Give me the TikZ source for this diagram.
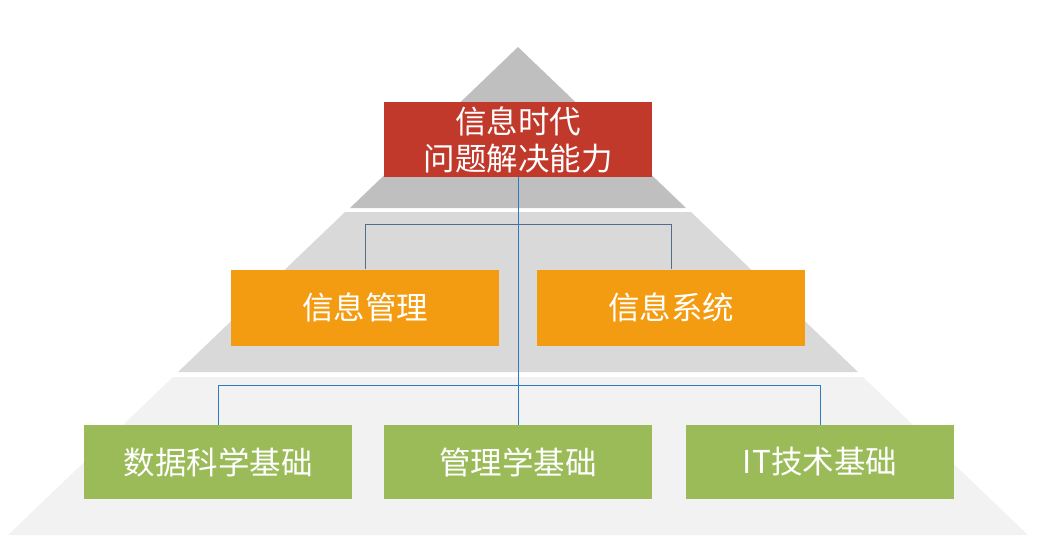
\documentclass[tikz,border=0pt]{standalone}
\usepackage{fontspec}
\newfontfamily\cjk{Noto Sans CJK SC}
\definecolor{bandA}{HTML}{BFBFBF}
\definecolor{bandB}{HTML}{D9D9D9}
\definecolor{bandC}{HTML}{F2F2F2}
\definecolor{redbox}{HTML}{C0392B}
\definecolor{orangebox}{HTML}{F39C12}
\definecolor{greenbox}{HTML}{9BBB59}
\definecolor{linkblue}{HTML}{2E7BC4}
\definecolor{linkslate}{HTML}{4E6E8A}
\begin{document}
\begin{tikzpicture}[x=1pt,y=-1pt,
  boxbase/.style={inner sep=0pt, minimum width=268pt, minimum height=75pt,
    text=white, font=\cjk\fontsize{31.5}{37}\selectfont, align=center},
  topbox/.style={boxbase, fill=redbox},
  midbox/.style={boxbase, fill=orangebox, minimum height=76pt},
  basebox/.style={boxbase, fill=greenbox, minimum height=74pt},
  link/.style={draw=linkblue, line width=1pt},
  slatelink/.style={draw=linkslate, line width=1pt}]
\useasboundingbox (0,0) rectangle (1040,558);
% pyramid bands
\fill[bandA] (518,47) -- (686,208) -- (350,208) -- cycle;
\fill[bandB] (345,212) -- (691,212) -- (858,372) -- (178,372) -- cycle;
\fill[bandC] (173,377) -- (863,377) -- (1028,535) -- (8,535) -- cycle;
% boxes
\node[topbox] (top) at (518,139.5) {信息时代\\问题解决能力};
\node[midbox] (mgmt) at (365,307.5) {信息管理};
\node[midbox] (sys) at (671,307.5) {信息系统};
\node[basebox] (ds) at (218,462) {数据科学基础};
\node[basebox] (ms) at (518,462) {管理学基础};
\node[basebox] (it) at (820,462) {IT技术基础};
% connectors
\coordinate (midbar) at (0,224);
\coordinate (basebar) at (0,385);
\draw[slatelink] (mgmt.north) -- (mgmt.north |- midbar) -- (sys.north |- midbar) -- (sys.north);
\draw[link] (ds.north) -- (ds.north |- basebar) -- (it.north |- basebar) -- (it.north);
\draw[link] (top.south) -- (ms.north);
\end{tikzpicture}
\end{document}
